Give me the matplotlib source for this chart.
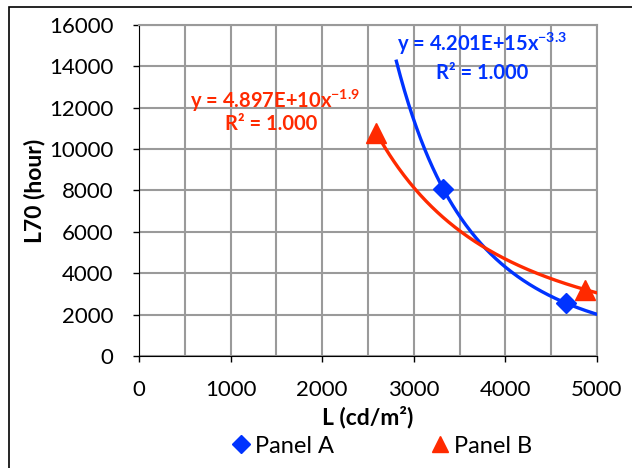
import numpy as np
import matplotlib.pyplot as plt
from matplotlib.patches import Rectangle

plt.rcParams['font.family'] = ['Lato', 'DejaVu Sans']
plt.rcParams['mathtext.fontset'] = 'custom'
plt.rcParams['mathtext.bf'] = 'Lato:bold'
plt.rcParams['mathtext.rm'] = 'Lato'
plt.rcParams['mathtext.default'] = 'bf'

# luminance (cd/m2) vs L70 lifetime (hours)
lum_a = [3320, 4660]
life_a = [8090, 2560]
lum_b = [2590, 4870]
life_b = [10800, 3210]

blue = '#0033ff'
red = '#ff2a00'
grid_c = '#9a9a9a'


def power_fit(x, y):
    k, c = np.polyfit(np.log(x), np.log(y), 1)
    return np.exp(c), k


fig = plt.figure(figsize=(6.32, 4.68), dpi=100)
ax = fig.add_axes([0.2199, 0.2393, 0.7247, 0.7073])

# power trendlines
ca, ka = power_fit(lum_a, life_a)
cb, kb = power_fit(lum_b, life_b)
xa = np.linspace(2810, 5000, 200)
xb = np.linspace(2590, 5000, 200)
ax.plot(xa, ca * xa ** ka, color=blue, lw=2.4, zorder=3)
ax.plot(xb, cb * xb ** kb, color=red, lw=2.4, zorder=3)

ax.plot(lum_a, life_a, 'D', color=blue, ms=10, ls='none', zorder=4, label='Panel A')
ax.plot(lum_b, life_b, '^', color=red, ms=15, ls='none', zorder=4, label='Panel B')

ax.set_xlim(0, 5000)
ax.set_ylim(0, 16000)
ax.set_xticks(np.arange(0, 5001, 1000))
ax.set_xticks(np.arange(500, 5000, 1000), minor=True)
ax.set_yticks(np.arange(0, 16001, 2000))
ax.grid(True, which='both', axis='x', color=grid_c, lw=1.5)
ax.grid(True, which='major', axis='y', color=grid_c, lw=1.5)
ax.set_axisbelow(True)
ax.tick_params(which='major', direction='out', length=4.3, width=1, labelsize=16)
ax.tick_params(which='minor', length=0)
ax.tick_params(axis='x', pad=13)
ax.tick_params(axis='y', pad=14)
for s in ['top', 'right']:
    ax.spines[s].set_color(grid_c)
    ax.spines[s].set_linewidth(1.5)
for s in ['left', 'bottom']:
    ax.spines[s].set_color('black')

ax.set_xlabel('L (cd/m²)', fontsize=16.5, fontweight='bold', labelpad=4)
ax.set_ylabel('L70 (hour)', fontsize=16.5, fontweight='bold', labelpad=3)

# trendline equations
ax.text(3745, 15080, r'y = 4.201E+15x$^{-3.3}$', color=blue, fontsize=14.5,
        fontweight='bold', ha='center', va='center')
ax.text(3745, 13680, 'R² = 1.000', color=blue, fontsize=14.5,
        fontweight='bold', ha='center', va='center')
ax.text(1485, 12340, r'y = 4.897E+10x$^{-1.9}$', color=red, fontsize=14.5,
        fontweight='bold', ha='center', va='center')
ax.text(1441, 11200, 'R² = 1.000', color=red, fontsize=14.5,
        fontweight='bold', ha='center', va='center')

leg = fig.legend(loc='center', bbox_to_anchor=(0.602, 0.047), ncol=2, frameon=False,
                 fontsize=17, handlelength=1.0, handletextpad=0.1, columnspacing=4.0,
                 borderpad=0)
leg.legend_handles[0].set_markersize(8.7)
leg.legend_handles[1].set_markersize(11.5)

fig.patches.append(Rectangle((0.015, -0.1), 1.2, 1.086, transform=fig.transFigure,
                             fill=False, edgecolor='black', lw=1.2))

fig.savefig('out.png', dpi=100)
